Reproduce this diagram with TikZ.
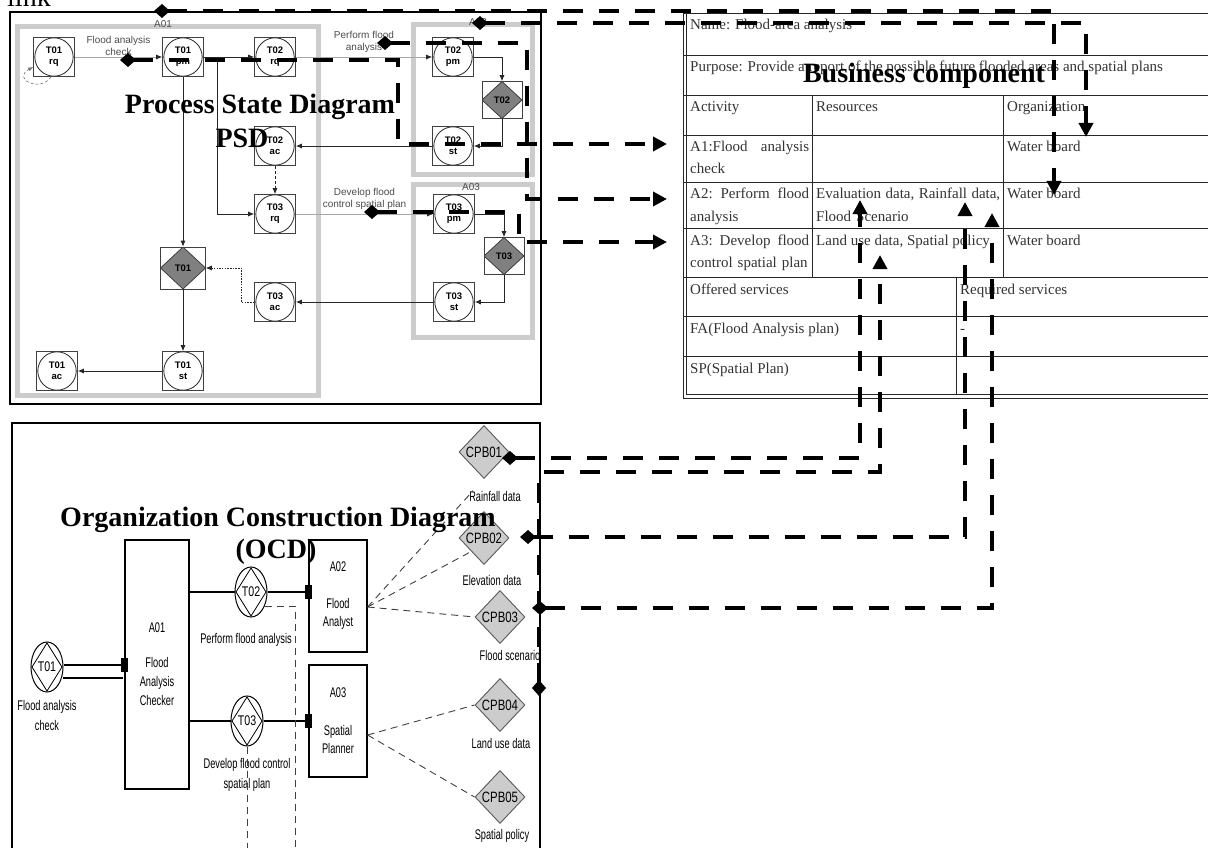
\documentclass[tikz,border=0pt]{standalone}
\usepackage{fontspec}
\setmainfont{Liberation Serif}
\newfontfamily\psdfont{Liberation Sans}
\newfontfamily\ocdfont[FakeStretch=0.66]{Liberation Sans}
\newfontfamily\ocdwide[FakeStretch=0.76]{Liberation Sans}
\usetikzlibrary{arrows.meta,positioning,shapes.geometric,calc}

\begin{document}
\begin{tikzpicture}[x=1pt, y=-1pt,
  every node/.style={inner sep=0pt},
  title/.style={font=\fontsize{28}{32}\selectfont\bfseries, anchor=base},
  frame/.style={draw, line width=1.4pt},
  grp/.style={draw=black!20, line width=5pt},
  st/.style={draw=black!75, line width=0.6pt, fill=white, minimum width=41pt,
             minimum height=39pt, align=center,
             font=\psdfont\fontsize{9.5}{11}\selectfont\bfseries,
             path picture={\draw[black!85, line width=0.8pt]
               (path picture bounding box.center) circle (19.2pt);}},
  dec/.style={draw=black!75, line width=0.6pt, fill=white, minimum width=40pt,
              minimum height=37pt, font=\psdfont\fontsize{9.5}{11}\selectfont\bfseries,
              path picture={\filldraw[fill=black!50, draw=black!80, line width=0.7pt]
                (path picture bounding box.north) -- (path picture bounding box.east)
                -- (path picture bounding box.south) -- (path picture bounding box.west) -- cycle;}},
  flow/.style={-{Latex[length=6pt,width=5pt]}, line width=0.8pt, draw=black!85},
  gflow/.style={-{Latex[length=6pt,width=5pt,color=black!85]}, line width=0.8pt, draw=black!35},
  plbl/.style={font=\psdfont\fontsize{10}{12}\selectfont, text=black!70, align=center},
  org/.style={draw, line width=1.2pt, fill=white, align=center,
              font=\ocdfont\fontsize{14}{19}\selectfont},
  trans/.style={ellipse, draw, line width=1pt, fill=white, minimum width=32pt,
                minimum height=50pt, font=\ocdwide\fontsize{14}{16}\selectfont,
                path picture={\draw[line width=0.8pt]
                  ([yshift=-1pt]path picture bounding box.north) -- ([xshift=-1pt]path picture bounding box.east)
                  -- ([yshift=1pt]path picture bounding box.south) -- ([xshift=1pt]path picture bounding box.west) -- cycle;}},
  cpb/.style={diamond, draw=black!65, line width=0.9pt, fill=black!20,
              minimum width=50pt, minimum height=53pt,
              font=\ocdwide\fontsize{15}{17}\selectfont},
  olbl/.style={font=\ocdfont\fontsize{14}{20}\selectfont, align=center},
  rel/.style={dash pattern=on 7pt off 5pt, line width=0.9pt, draw=black!75},
  plug/.style={fill=black, minimum width=7pt, minimum height=14pt},
  cell/.style={anchor=base west, align=left, text=black!80,
               font=\fontsize{15}{22}\selectfont},
  tline/.style={line width=0.8pt, draw=black!85},
  link/.style={line width=4.5pt, dash pattern=on 20pt off 16pt,
               {Diamond[length=16pt,width=14pt]}-{Triangle[length=14pt,width=14pt]}},
]
\useasboundingbox (0,0) rectangle (1208,848);

%% ── Business component table ────────────────────────────────────────────
\foreach \y in {13,55,95,135,182,228,277,316,356}
  \draw[tline] (683,\y) -- (1215,\y);
\draw[tline] (683,13) -- (683,398) -- (1215,398);
\draw[tline] (686,13) -- (686,394) -- (1215,394);
\draw[tline] (812,95) -- (812,277);
\draw[tline] (1003,95) -- (1003,277);
\draw[tline] (956,277) -- (956,394);

\node[cell] (name)    at (690,30)  {Name: Flood-area analysis};
\node[cell] (purpose) at (690,72)  {Purpose: Provide a report of the possible future flooded areas and spatial plans};
\node[cell] (hdact)   at (690,112) {Activity};
\node[cell] (hdres)   at (816,112) {Resources};
\node[cell] (hdorg)   at (1007,112) {Organization};
\node[cell, text width=119pt] (act1) at (690,152) {A1:Flood\hfill analysis\\check};
\node[cell] (org1)    at (1007,152) {Water board};
\node[cell, text width=119pt] (act2) at (690,199) {A2:\hfill Perform\hfill flood\\analysis};
\node[cell, text width=184pt] (res2) at (816,199) {Evaluation\hfill data,\hfill Rainfall\hfill data,\\Flood Scenario};
\node[cell] (org2)    at (1007,199) {Water board};
\node[cell, text width=119pt] (act3) at (690,245) {A3:\hfill Develop\hfill flood\\control spatial plan};
\node[cell] (res3)    at (816,245) {Land use data, Spatial policy};
\node[cell] (org3)    at (1007,245) {Water board};
\node[cell] (offered) at (690,294) {Offered services};
\node[cell] (required) at (960,294) {Required services};
\node[cell] (srvfa)   at (690,333) {FA(Flood Analysis plan)};
\node[cell] (reqfa)   at (960,333) {-};
\node[cell] (srvsp)   at (690,373) {SP(Spatial Plan)};

%% ── Process State Diagram ───────────────────────────────────────────────
\draw[frame] (10,12) rectangle (541,404);
\draw[grp] (17,27) rectangle (318,395);
\draw[grp] (413,25) rectangle (532,175);
\draw[grp] (413,185) rectangle (532,337);
\node[plbl] (lblA01) at (163,24) {A01};
\node[plbl] (lblA02) at (478,22) {A02};
\node[plbl] (lblA03) at (471,187) {A03};

\node[st]  (t1rq)  at (54,57)   {T01\\rq};
\node[st]  (t1pm)  at (183,57)  {T01\\pm};
\node[st]  (t2rq)  at (275,57)  {T02\\rq};
\node[st]  (t2pm)  at (453,57)  {T02\\pm};
\node[dec] (t2dec) at (502,100) {T02};
\node[st]  (t2st)  at (453,146) {T02\\st};
\node[st]  (t2ac)  at (275,146) {T02\\ac};
\node[st]  (t3rq)  at (275,214) {T03\\rq};
\node[st]  (t3pm)  at (454,214) {T03\\pm};
\node[dec] (t3dec) at (504,256) {T03};
\node[st]  (t3st)  at (454,302) {T03\\st};
\node[st]  (t3ac)  at (275,302) {T03\\ac};
\node[dec, minimum width=45pt, minimum height=42pt] (t1dec) at (183,268) {T01};
\node[st]  (t1st)  at (183,371) {T01\\st};
\node[st]  (t1ac)  at (57,371)  {T01\\ac};

\draw[gflow] (t1rq) -- node[plbl, above=1pt]{Flood analysis\\check} (t1pm);
\draw[flow] (t1pm) -- (t2rq);
\draw[gflow] (t2rq) -- node[plbl, above=4pt]{Perform flood\\analysis} (t2pm);
\draw[flow] (t2pm.east) -| (t2dec.north);
\draw[flow] (t2dec.south) |- (t2st.east);
\draw[flow] (t2st) -- (t2ac);
\draw[flow, dash pattern=on 3pt off 2pt] (t2ac) -- (t3rq);
\draw[flow] ([xshift=14pt]t1pm.east) |- (t3rq.west);
\draw[gflow] (t3rq) -- node[plbl, above=4pt]{Develop flood\\control spatial plan} (t3pm);
\draw[flow] (t3pm.east) -| (t3dec.north);
\draw[flow] (t3dec.south) |- (t3st.east);
\draw[flow] (t3st) -- (t3ac);
\draw[flow, dash pattern=on 1.5pt off 1.2pt, line width=0.7pt] (t3ac.west) -- ++(-13,0) |- (t1dec.east);
\draw[flow] (t1pm) -- (t1dec);
\draw[flow] (t1dec) -- (t1st);
\draw[flow] (t1st) -- (t1ac);
\draw[-{Latex[length=5pt,width=4pt]}, black!55, line width=0.6pt, dash pattern=on 3pt off 2pt]
  ([xshift=-3pt]t1rq.south) .. controls +(-10,16) and +(-22,12) .. ([yshift=-10pt]t1rq.west);

%% ── Organization Construction Diagram ───────────────────────────────────
\draw[frame] (12,423) rectangle (540,870);

\node[org, minimum width=64pt, minimum height=249pt] (a01) at (157,664.5) {A01\\[16pt]Flood\\Analysis\\Checker};
\node[org, minimum width=58pt, minimum height=112pt, font=\ocdfont\fontsize{14}{18}\selectfont] (a02) at (338,596) {A02\\[19pt]Flood\\Analyst};
\node[org, minimum width=58pt, minimum height=112pt, font=\ocdfont\fontsize{14}{18}\selectfont] (a03) at (338,721) {A03\\[20pt]Spatial\\Planner};

\node[trans] (t01) at (47,667)  {T01};
\node[trans] (t02) at (251,592) {T02};
\node[trans] (t03) at (247,721) {T03};
\node[olbl] (t01lbl) at (47,715)  {Flood analysis\\check};
\node[olbl] (t02lbl) at (246,640) {Perform flood analysis};
\node[olbl] (t03lbl) at (247,775) {Develop flood control\\spatial plan};

\draw[line width=1.2pt] ([yshift=2pt]t01.east) -- ([yshift=2pt]t01.east -| a01.west);
\draw[line width=1.2pt] ([shift={(-1pt,-11pt)}]t01.east) -- ([shift={(-1pt,-11pt)}]t01.east -| a01.west);
\node[plug] at ([yshift=2pt]t01.east -| a01.west) {};
\draw[line width=1.2pt] (t02.west -| a01.east) -- (t02.west);
\draw[line width=1.2pt] (t02.east) -- (t02.east -| a02.west);
\node[plug] at (t02.east -| a02.west) {};
\draw[line width=1.2pt] (t03.west -| a01.east) -- (t03.west);
\draw[line width=1.2pt] (t03.east) -- (t03.east -| a03.west);
\node[plug] at (t03.east -| a03.west) {};

\coordinate (t02down) at (295,860);
\coordinate (t03down) at (247,860);
\draw[rel] ([shift={(-3pt,-14pt)}]t02.east) -| (t02down);
\draw[rel] (t03.south) -- (t03down);

\node[cpb] (cpb1) at (484,452) {CPB01};
\node[cpb] (cpb2) at (484,538) {CPB02};
\node[cpb] (cpb3) at (500,617) {CPB03};
\node[cpb] (cpb4) at (500,705) {CPB04};
\node[cpb] (cpb5) at (500,797) {CPB05};
\node[olbl] (cpb1lbl) at (495,496) {Rainfall data};
\node[olbl] (cpb2lbl) at (492,580) {Elevation data};
\node[olbl] (cpb3lbl) at (510,655) {Flood scenario};
\node[olbl] (cpb4lbl) at (501,743) {Land use data};
\node[olbl] (cpb5lbl) at (502,836) {Spatial policy};

\draw[rel] ([yshift=-11pt]a02.east) -- ([xshift=4pt]cpb1lbl.north west);
\draw[rel] ([yshift=-11pt]a02.east) -- (cpb2.south west);
\draw[rel] ([yshift=-11pt]a02.east) -- (cpb3.west);
\draw[rel] ([yshift=-14pt]a03.east) -- (cpb4.west);
\draw[rel] ([yshift=-14pt]a03.east) -- (cpb5.west);

%% ── Titles ──────────────────────────────────────────────────────────────
\node[anchor=base west, font=\fontsize{28}{30}\selectfont] (linklbl) at (7,7) {link};
\node[title] (psdtitle) at (260,114) {Process State Diagram};
\node[title] (psdsub)   at (242,148) {PSD};
\node[title] (bctitle)  at (924,83)  {Business component};
\node[title] (ocdtitle) at (278,526) {Organization Construction Diagram};
\node[title] (ocdsub)   at (276,558) {(OCD)};

%% ── Links ───────────────────────────────────────────────────────────────
\coordinate (srcA01)   at (154,11);
\coordinate (srcA02)   at (472,23);
\coordinate (srcT01)   at (120,60);
\coordinate (srcT02)   at (377,43);
\coordinate (srcT03)   at (364,212);
\coordinate (srcCPB01) at (502,458);
\coordinate (srcCPB02) at (520,537);
\coordinate (srcCPB03) at (532,608);
\coordinate (srcCPB04) at (539,696);
\coordinate (dstA1org) at (1086,137);
\coordinate (dstA2org) at (1054,195);
\coordinate (dstA1act) at (667,144);
\coordinate (dstA2act) at (667,199);
\coordinate (dstA3act) at (667,242);
\coordinate (dstRain)  at (860,200);
\coordinate (dstElev)  at (965,202);
\coordinate (dstScen)  at (992,213);
\coordinate (dstLand)  at (880,255);
\coordinate (bendT01)  at (398,144);
\coordinate (bendT02)  at (527,199);
\coordinate (bendT03)  at (519,242);
\coordinate (bendCPB04) at (880,472);

\draw[link] (srcA01) -| (dstA2org);
\draw[link] (srcA02) -| (dstA1org);
\draw[link] (srcT01) -| (bendT01) -- (dstA1act);
\draw[link] (srcT02) -| (bendT02) -- (dstA2act);
\draw[link] (srcT03) -| (bendT03) -- (dstA3act);
\draw[link] (srcCPB01) -| (dstRain);
\draw[link] (srcCPB02) -| (dstElev);
\draw[link] (srcCPB03) -| (dstScen);
\draw[link] (srcCPB04) |- (bendCPB04) -- (dstLand);
\end{tikzpicture}
\end{document}
